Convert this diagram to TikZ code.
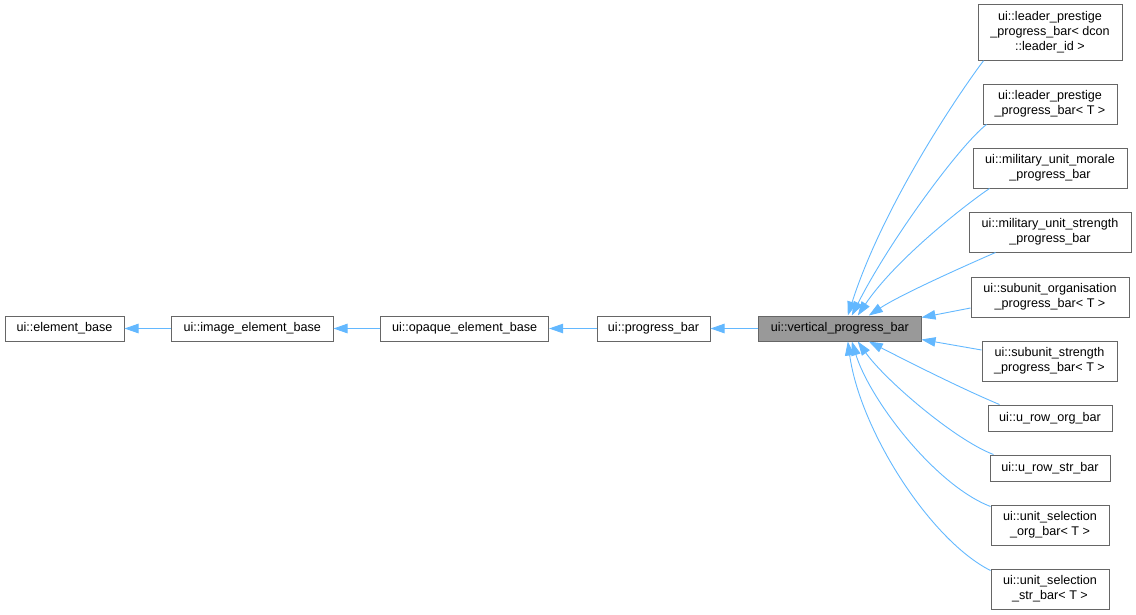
\documentclass[tikz,border=0pt]{standalone}
\usepackage{fontspec}
\setmainfont{Liberation Sans}
\usetikzlibrary{arrows.meta}
\definecolor{edgeblue}{HTML}{63B8FF}
\definecolor{boxborder}{HTML}{666666}
\definecolor{mainfill}{HTML}{999999}
\begin{document}
\begin{tikzpicture}[x=1pt,y=-1pt,
  cls/.style={draw=boxborder,line width=1pt,fill=white,inner sep=0pt,align=center,
    font=\fontsize{12.6}{15}\selectfont,text=black},
  mainbox/.style={cls,fill=mainfill},
  edge/.style={draw=edgeblue,line width=0.9pt,-{Triangle[length=14pt,width=9.5pt]}}]
\useasboundingbox (0,0) rectangle (1136,614);
% main chain
\node[cls,minimum width=119pt,minimum height=25pt] (eb) at (64.5,328.5) {ui::element\_base};
\node[cls,minimum width=161.5pt,minimum height=25pt] (ieb) at (252.25,328.5) {ui::image\_element\_base};
\node[cls,minimum width=168pt,minimum height=25pt] (oeb) at (464.6,328.5) {ui::opaque\_element\_base};
\node[cls,minimum width=113pt,minimum height=25pt] (pb) at (653.5,328.5) {ui::progress\_bar};
\node[mainbox,minimum width=162.4pt,minimum height=25pt] (vpb) at (839.8,328.5) {ui::vertical\_progress\_bar};
% children
\node[cls,minimum width=144pt,minimum height=55.5pt] (c1) at (1050,32.5) {ui::leader\_prestige\\\_progress\_bar< dcon\\::leader\_id >};
\node[cls,minimum width=134pt,minimum height=40pt] (c2) at (1050,104) {ui::leader\_prestige\\\_progress\_bar< T >};
\node[cls,minimum width=154pt,minimum height=40pt] (c3) at (1050,168) {ui::military\_unit\_morale\\\_progress\_bar};
\node[cls,minimum width=162pt,minimum height=40pt] (c4) at (1050,232) {ui::military\_unit\_strength\\\_progress\_bar};
\node[cls,minimum width=158pt,minimum height=40pt] (c5) at (1050,297) {ui::subunit\_organisation\\\_progress\_bar< T >};
\node[cls,minimum width=135pt,minimum height=40pt] (c6) at (1049.5,361) {ui::subunit\_strength\\\_progress\_bar< T >};
\node[cls,minimum width=124pt,minimum height=26pt] (c7) at (1050,418) {ui::u\_row\_org\_bar};
\node[cls,minimum width=120pt,minimum height=26pt] (c8) at (1050,468) {ui::u\_row\_str\_bar};
\node[cls,minimum width=118pt,minimum height=40pt] (c9) at (1050,525) {ui::unit\_selection\\\_org\_bar< T >};
\node[cls,minimum width=118pt,minimum height=40pt] (c10) at (1050,589) {ui::unit\_selection\\\_str\_bar< T >};
% chain edges
\draw[edge] (ieb) -- (eb);
\draw[edge] (oeb) -- (ieb);
\draw[edge] (pb) -- (oeb);
\draw[edge] (vpb) -- (pb);
% child edges
\draw[edge] ([xshift=6pt]c1.south west) .. controls (965,85) and (885,200) .. ([xshift=8pt]vpb.north);
\draw[edge] ([xshift=4pt]c2.south west) .. controls (960,145) and (890,240) .. ([xshift=12pt]vpb.north);
\draw[edge] ([xshift=17pt]c3.south west) .. controls (965,205) and (895,260) .. ([xshift=18pt]vpb.north);
\draw[edge] ([xshift=27pt]c4.south west) .. controls (960,268) and (900,295) .. ([xshift=29pt]vpb.north);
\draw[edge] ([yshift=-11pt]c5.west) -- ([yshift=-2pt]vpb.north east);
\draw[edge] ([yshift=11pt]c6.west) -- ([yshift=2pt]vpb.south east);
\draw[edge] ([xshift=12pt]c7.north west) .. controls (960,388) and (905,360) .. ([xshift=29pt]vpb.south);
\draw[edge] ([xshift=4pt]c8.north west) .. controls (955,440) and (885,380) .. ([xshift=18pt]vpb.south);
\draw[edge] ([yshift=-2pt]c9.north west) .. controls (935,485) and (870,400) .. ([xshift=12pt]vpb.south);
\draw[edge] ([yshift=-2pt]c10.north west) .. controls (930,540) and (860,430) .. ([xshift=8pt]vpb.south);
\end{tikzpicture}
\end{document}
